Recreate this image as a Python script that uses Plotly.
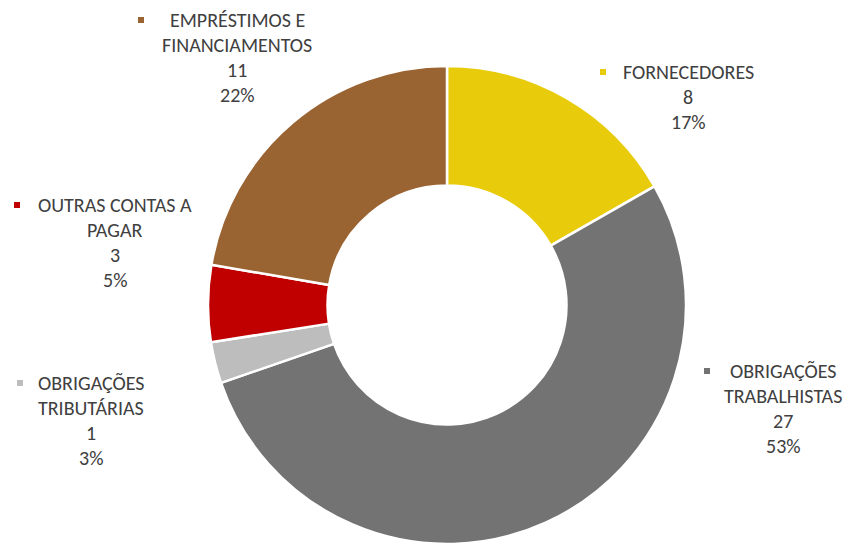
import plotly.graph_objects as go

# the page body keeps its 8px margin, so the figure is drawn 8px in and
# every position below is shifted by it
OFF = 8
W, H = 854 - 2 * OFF, 546 - OFF

categories = ["FORNECEDORES", "OBRIGAÇÕES TRABALHISTAS", "OBRIGAÇÕES TRIBUTÁRIAS",
              "OUTRAS CONTAS A PAGAR", "EMPRÉSTIMOS E FINANCIAMENTOS"]
label_lines = [["FORNECEDORES"], ["OBRIGAÇÕES", "TRABALHISTAS"], ["OBRIGAÇÕES", "TRIBUTÁRIAS"],
               ["OUTRAS CONTAS A", "PAGAR"], ["EMPRÉSTIMOS E", "FINANCIAMENTOS"]]
values = [8.4, 26.6, 1.4, 2.6, 11.2]
colors = ["#E8CC0C", "#737373", "#BDBDBD", "#C00000", "#9A6332"]

# label block placement in reference pixels: centre x, first line y, marker x
label_pos = [(688, 72, 603), (783, 371, 707), (91, 383, 20), (115, 205, 17), (237, 20, 141)]
LINE = 25
FONT = dict(family="Carlito, Calibri, Lato, sans-serif", size=20, color="#404040")


def px(x, y):
    return (x - OFF) / W, 1 - (y - OFF) / H


dx0, dy0 = px(208, 545)
dx1, dy1 = px(686, 65)

fig = go.Figure(go.Pie(
    labels=categories,
    values=values,
    hole=0.5,
    sort=False,
    direction="clockwise",
    rotation=0,
    marker=dict(colors=colors, line=dict(color="white", width=2.5)),
    textinfo="none",
    hoverinfo="label+value+percent",
    domain=dict(x=[dx0, dx1], y=[max(dy0, 0), dy1]),
))

total = sum(values)
annotations, shapes = [], []
for lines, v, c, (cx, y0, mx) in zip(label_lines, values, colors, label_pos):
    texts = lines + [f"{round(v):d}", f"{round(100 * v / total):d}%"]
    for i, t in enumerate(texts):
        x, y = px(cx, y0 + i * LINE)
        annotations.append(dict(x=x, y=y, xref="paper", yref="paper", text=t, showarrow=False,
                                xanchor="center", yanchor="middle", font=FONT))
    x1, y1 = px(mx - 3, y0 - 3)
    x2, y2 = px(mx + 3, y0 + 3)
    shapes.append(dict(type="rect", xref="paper", yref="paper", x0=x1, x1=x2, y0=y2, y1=y1,
                       fillcolor=c, line=dict(width=0)))

fig.update_layout(
    width=W, height=H,
    margin=dict(l=0, r=0, t=0, b=0),
    paper_bgcolor="white",
    plot_bgcolor="white",
    showlegend=False,
    annotations=annotations,
    shapes=shapes,
)

fig.write_html("out.html")
